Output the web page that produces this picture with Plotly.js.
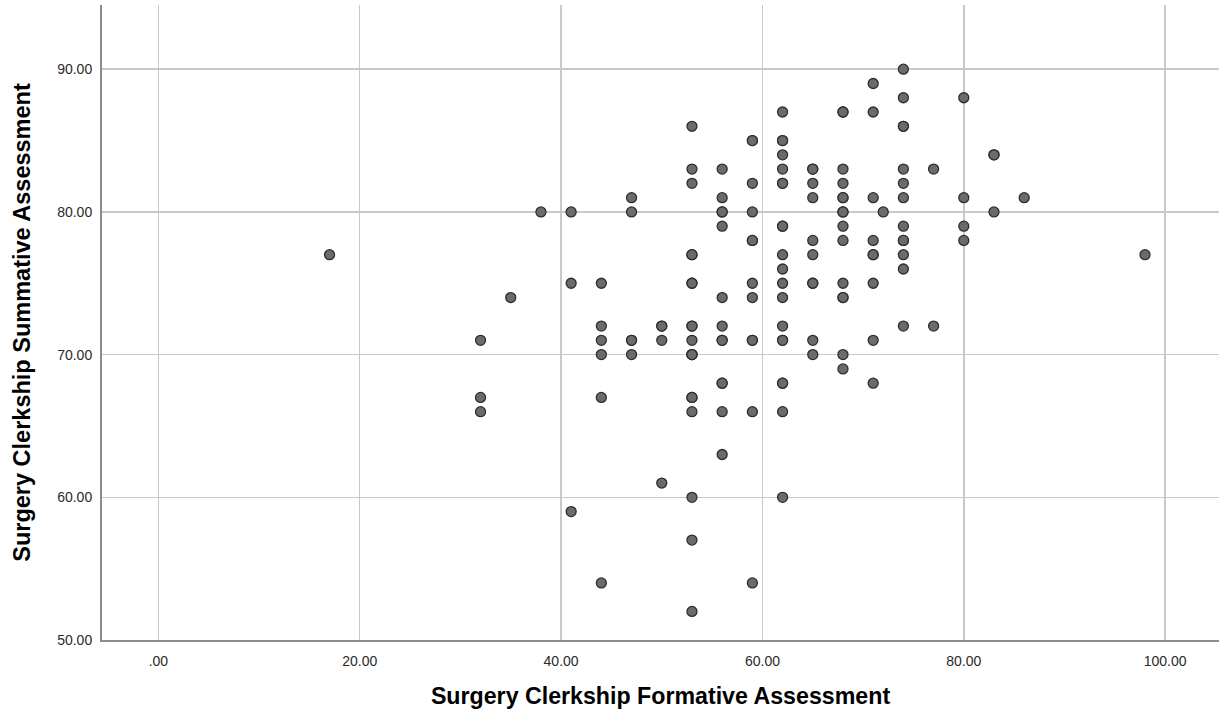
<!DOCTYPE html>
<html>
<head>
<meta charset="utf-8">
<script src="https://cdn.plot.ly/plotly-3.0.1.min.js"></script>
<style>
html,body{margin:0;padding:0;background:#fff;}
#chart{width:1219px;height:717px;}
</style>
</head>
<body>
<div id="chart"></div>
<script>
// Surgery Clerkship Formative Assessment (x) vs Summative Assessment (y)
const formative = [
  17,
  32,32,32,
  35,
  38,
  41,41,41,
  44,44,44,44,44,44,
  47,47,47,47,47,
  50,50,50,50,
  53,53,53,53,53,53,53,53,53,53,53,53,53,53,53,53,53,53,53,
  56,56,56,56,56,56,56,56,56,56,56,56,56,
  59,59,59,59,59,59,59,59,59,59,59,59,
  62,62,62,62,62,62,62,62,62,62,62,62,62,62,62,62,62,62,62,62,
  65,65,65,65,65,65,65,65,65,65,
  68,68,68,68,68,68,68,68,68,68,68,68,68,68,68,
  71,71,71,71,71,71,71,71,71,
  72,
  74,74,74,74,74,74,74,74,74,74,74,74,74,
  77,77,
  80,80,80,80,
  83,83,83,
  86,
  98
];
const summative = [
  77,
  71,67,66,
  74,
  80,
  80,75,59,
  75,72,71,70,67,54,
  81,80,71,71,70,
  72,72,71,61,
  86,83,82,77,77,75,75,72,72,71,70,70,70,67,67,66,60,57,52,
  83,81,80,80,79,74,72,71,71,68,68,66,63,
  85,85,82,80,78,78,75,74,71,71,66,54,
  87,85,85,84,83,82,82,79,79,77,76,75,74,72,71,71,68,68,66,60,
  83,83,82,81,78,77,75,75,71,70,
  87,87,83,82,81,81,80,80,79,78,75,74,74,70,69,
  89,87,81,78,77,77,75,71,68,
  80,
  90,88,86,86,83,82,81,79,78,78,77,76,72,
  83,72,
  88,81,79,78,
  84,84,80,
  81,
  77
];
const xTickVals = [0, 20, 40, 60, 80, 100];
const xTickText = [".00", "20.00", "40.00", "60.00", "80.00", "100.00"];
const yTickVals = [50, 60, 70, 80, 90];
const yTickText = ["50.00", "60.00", "70.00", "80.00", "90.00"];

const trace = {
  x: formative,
  y: summative,
  type: 'scatter',
  mode: 'markers',
  marker: {
    size: 10,
    color: '#6b6b6b',
    line: {color: '#2e2e2e', width: 1.3}
  },
  hoverinfo: 'x+y'
};

const layout = {
  width: 1219,
  height: 717,
  margin: {l: 102, r: 0, t: 5, b: 77},
  paper_bgcolor: '#ffffff',
  plot_bgcolor: '#ffffff',
  showlegend: false,
  font: {family: 'Liberation Sans, Arial, sans-serif', color: '#222', size: 14},
  xaxis: {
    range: [-5.6, 105.35],
    tickvals: xTickVals,
    ticktext: xTickText,
    showgrid: true,
    gridcolor: '#c9c9c9',
    gridwidth: 1.5,
    zeroline: false,
    showline: true,
    linecolor: '#8c8c8c',
    linewidth: 2,
    ticks: 'outside',
    ticklen: 7,
    tickcolor: 'rgba(0,0,0,0)',
    tickfont: {size: 14, color: '#2a2a2a'},
    title: {
      text: 'Surgery Clerkship Formative Assessment',
      font: {size: 23.2, color: '#000', family: 'Liberation Sans, Arial, sans-serif', weight: 'bold'},
      standoff: 20
    }
  },
  yaxis: {
    range: [50, 94.5],
    tickvals: yTickVals,
    ticktext: yTickText,
    showgrid: true,
    gridcolor: '#c9c9c9',
    gridwidth: 1.5,
    zeroline: false,
    showline: true,
    linecolor: '#8c8c8c',
    linewidth: 2,
    ticks: 'outside',
    ticklen: 5,
    tickcolor: 'rgba(0,0,0,0)',
    tickfont: {size: 14, color: '#2a2a2a'},
    title: {
      text: 'Surgery Clerkship Summative Assessment',
      font: {size: 23.5, color: '#000', family: 'Liberation Sans, Arial, sans-serif', weight: 'bold'},
      standoff: 20
    }
  }
};

Plotly.newPlot('chart', [trace], layout, {displayModeBar: false, staticPlot: true});
</script>
</body>
</html>
